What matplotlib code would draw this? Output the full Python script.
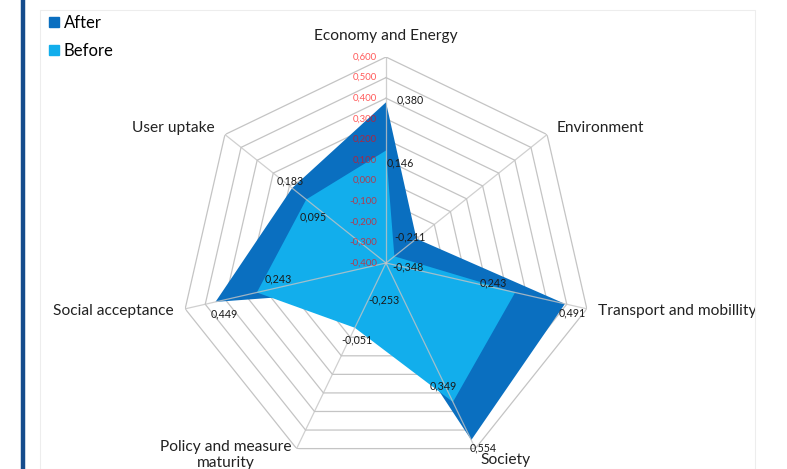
import numpy as np
import matplotlib.pyplot as plt
from matplotlib.lines import Line2D
from matplotlib.patches import Rectangle

plt.rcParams['font.family'] = ['Lato', 'DejaVu Sans']

# Axes (clockwise from top)
categories = ['Economy and Energy', 'Environment', 'Transport and mobillity', 'Society',
              'Policy and measure\nmaturity', 'Social acceptance', 'User uptake']
after = [0.380, -0.211, 0.491, 0.554, -0.253, 0.449, 0.183]
before = [0.146, -0.348, 0.243, 0.349, -0.051, 0.243, 0.095]
ticks = [-0.4, -0.3, -0.2, -0.1, 0.0, 0.1, 0.2, 0.3, 0.4, 0.5, 0.6]

c_after = '#0A6FC0'
c_before = '#12AEEC'
c_grid = '#C4C4C4'

def fmt(v):
    return f'{v:.3f}'.replace('.', ',')

fig = plt.figure(figsize=(7.87, 4.69), dpi=100)

# faint chart frame and dark left border
frame = Rectangle((40 / 787, 0), 715 / 787, 459 / 469, transform=fig.transFigure,
                  fill=False, edgecolor='#EDEDED', linewidth=0.8)
fig.add_artist(frame)
fig.add_artist(Line2D([23 / 787, 23 / 787], [0, 1], transform=fig.transFigure,
                      color='#154C8C', linewidth=3.2))

ax = fig.add_axes([180 / 787, 0.0, 412 / 787, 412 / 469], projection='polar')
ax.set_theta_offset(np.pi / 2)
ax.set_theta_direction(-1)
ax.set_ylim(ticks[0], ticks[-1])
ax.grid(False)
ax.set_xticks([])
ax.set_yticks([])
ax.spines['polar'].set_visible(False)
ax.patch.set_alpha(0)

n = len(categories)
angles = np.arange(n) * 2 * np.pi / n
ang_c = np.append(angles, angles[0])

# heptagon rings
for t in ticks[1:]:
    ax.plot(ang_c, [t] * (n + 1), color=c_grid, linewidth=0.9, zorder=1)

# filled series
ax.fill(ang_c, after + after[:1], color=c_after, linewidth=0, zorder=2)
ax.fill(ang_c, before + before[:1], color=c_before, linewidth=0, zorder=3)

# spokes
for a in angles:
    ax.plot([a, a], [ticks[0], ticks[-1]], color=c_grid, linewidth=0.9, alpha=0.8, zorder=4)

# value axis labels along top spoke
for t in ticks:
    ax.annotate(fmt(t), (0, t), xytext=(-9, 0), textcoords='offset pixels',
                ha='right', va='center', fontsize=6.9, color='#FF0000', alpha=0.65,
                zorder=6, annotation_clip=False)

# category labels
cat_style = [((0, 21), 'center', 'center'),
             ((10, 7), 'left', 'center'),
             ((11, -2), 'left', 'center'),
             ((5, -11), 'left', 'center'),
             ((-5, 9), 'right', 'top'),
             ((-12, -2), 'right', 'center'),
             ((-10, 7), 'right', 'center')]
for a, name, (off, ha, va) in zip(angles, categories, cat_style):
    txt = ax.annotate(name, (a, ticks[-1]), xytext=off, textcoords='offset pixels',
                      ha=ha, va=va, fontsize=11.2, color='#222222', multialignment='center',
                      annotation_clip=False)
    txt.set_clip_path(frame)

# data labels
after_style = [((11, 2), 'left'), ((-6, 2), 'center'), ((7, -9), 'center'),
               ((-2, -8), 'left'), ((-5, -10), 'left'), ((-5, -12), 'left'),
               ((-2, 7), 'center')]
before_style = [((1, -12), 'left'), ((-2, -11), 'left'), ((-8, 10), 'right'),
                ((-10, 16), 'center'), ((2, -12), 'center'), ((8, 14), 'left'),
                ((-7, -17), 'left')]
for vals, styles in [(after, after_style), (before, before_style)]:
    for a, v, (off, ha) in zip(angles, vals, styles):
        ax.annotate(fmt(v), (a, v), xytext=off, textcoords='offset pixels',
                    ha=ha, va='center', fontsize=7.7, color='#1A1A1A', zorder=7,
                    annotation_clip=False)

handles = [Line2D([], [], marker='s', linestyle='none', markersize=7, color=c_after),
           Line2D([], [], marker='s', linestyle='none', markersize=7, color=c_before)]
fig.legend(handles, ['After', 'Before'], loc='upper left', bbox_to_anchor=(37 / 787, 1.0 - 3 / 469),
           frameon=False, fontsize=12, handlelength=0.6, handletextpad=0.3,
           labelspacing=0.72, borderpad=0.2)

fig.savefig('out.png', dpi=100)
